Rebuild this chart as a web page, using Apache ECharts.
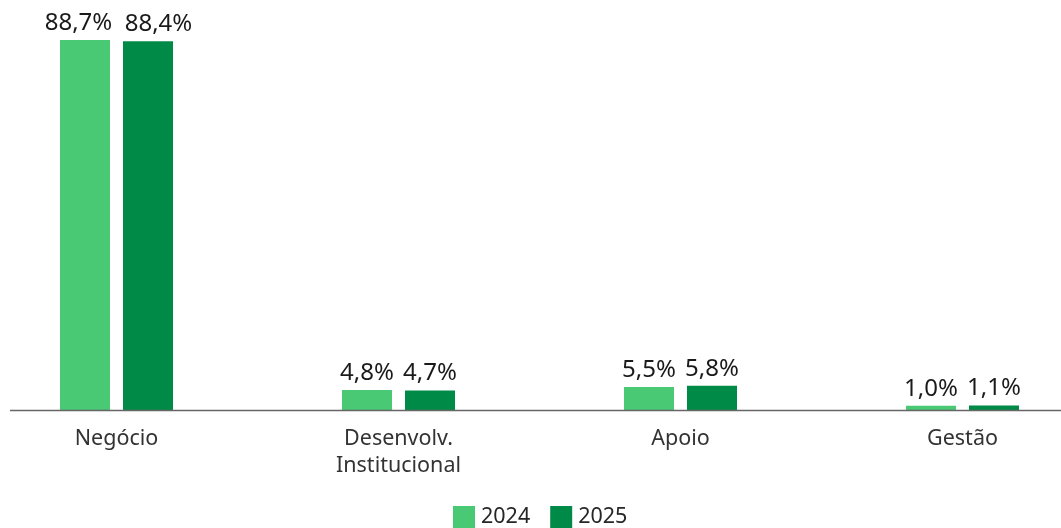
<!DOCTYPE html>
<html>
<head>
<meta charset="utf-8">
<script src="https://cdn.jsdelivr.net/npm/echarts@6/dist/echarts.min.js"></script>
<style>
  html, body { margin: 0; padding: 0; background: #fff; }
  #chart { width: 1061px; height: 528px; }
</style>
</head>
<body>
<div id="chart"></div>
<script>
// Distribution by area, share of total (%)
const categories = ['Negócio', 'Desenvolv.\nInstitucional', 'Apoio', 'Gestão'];
const seriesNames = ['2024', '2025'];
const values2024 = [88.7, 4.8, 5.5, 1.0];
const values2025 = [88.4, 4.7, 5.8, 1.1];

const FONT = '"Noto Sans", "Open Sans", sans-serif';
const colors = ['#4AC974', '#008A47'];

// Side shift of the value labels on the tall pair so they do not collide
const labelShift = [[-6.5, 10.5], [0, 0], [0, 0], [0, 0]];

const chart = echarts.init(document.getElementById('chart'), null, { renderer: 'canvas' });

const fmt = p => p.value.toFixed(1).replace('.', ',') + '%';

function barSeries(name, data, color, idx) {
  return {
    name: name,
    type: 'bar',
    data: data.map((v, i) => ({
      value: v,
      label: { offset: [labelShift[i][idx], 0] }
    })),
    barWidth: 50,
    barGap: '26%',
    itemStyle: { color: color },
    label: {
      show: true,
      position: 'top',
      distance: 5,
      formatter: fmt,
      fontFamily: FONT,
      fontSize: 24,
      color: '#1a1a1a'
    }
  };
}

chart.setOption({
  animation: false,
  textStyle: { fontFamily: FONT },
  grid: {
    left: -24.5, width: 1128, top: -7, bottom: 118,
    containLabel: false, outerBoundsMode: 'none'
  },
  legend: {
    data: seriesNames,
    bottom: 0,
    left: 453,
    itemWidth: 22,
    itemHeight: 22,
    itemGap: 20,
    icon: 'rect',
    padding: 0,
    textStyle: { fontFamily: FONT, fontSize: 21.5, color: '#262626', padding: [0, 0, 0, 1] }
  },
  xAxis: {
    type: 'category',
    data: categories,
    axisLine: { show: false },
    axisTick: { show: false },
    axisLabel: {
      fontFamily: FONT,
      fontSize: 21.5,
      color: '#333',
      margin: 15,
      lineHeight: 27
    }
  },
  yAxis: {
    type: 'value',
    min: 0,
    max: 100,
    show: false,
    splitLine: { show: false }
  },
  series: [
    barSeries(seriesNames[0], values2024, colors[0], 0),
    barSeries(seriesNames[1], values2025, colors[1], 1)
  ]
});

// Baseline of the category axis, drawn at the zero level of the value scale
const y0 = chart.convertToPixel({ yAxisIndex: 0 }, 0);
chart.setOption({
  graphic: [{
    type: 'line',
    shape: { x1: 10, y1: y0 + 0.5, x2: 1061, y2: y0 + 0.5 },
    style: { stroke: '#666', lineWidth: 1.5 },
    z: 10
  }]
});
</script>
</body>
</html>
